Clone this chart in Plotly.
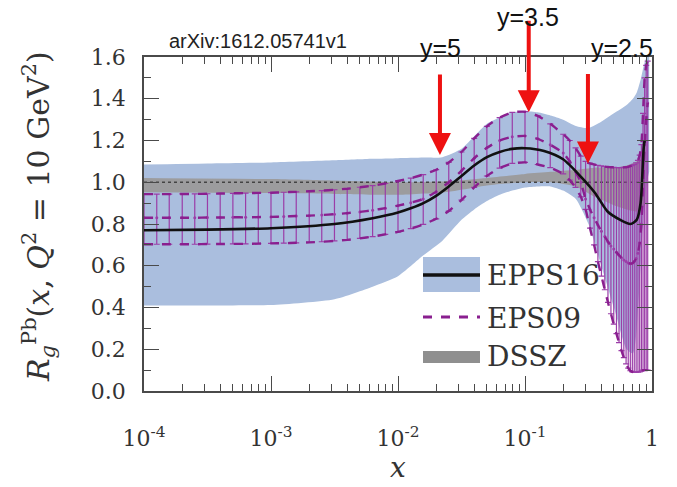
import math
import plotly.graph_objects as go

# ---------------- data ----------------
# EPPS16 uncertainty band (light blue)
epps16_band_log10x = [-4.0, -3.5, -3.0, -2.5, -2.2, -2.0, -1.8, -1.65, -1.5, -1.4, -1.3, -1.2,
                      -1.1, -1.0, -0.9, -0.8, -0.7, -0.6, -0.5, -0.4, -0.3, -0.2, -0.15,
                      -0.12, -0.09, -0.06, -0.04, -0.022]
epps16_upper = [1.085, 1.09, 1.095, 1.105, 1.112, 1.115, 1.118, 1.12, 1.16, 1.22, 1.28, 1.31,
                1.335, 1.34, 1.335, 1.32, 1.30, 1.27, 1.26, 1.29, 1.33, 1.37, 1.40,
                1.43, 1.49, 1.57, 1.60, 1.60]
epps16_lower = [0.41, 0.41, 0.412, 0.44, 0.50, 0.55, 0.65, 0.72, 0.82, 0.87, 0.91, 0.94,
                0.96, 0.975, 0.98, 0.98, 0.96, 0.92, 0.80, 0.60, 0.40, 0.20, 0.18,
                0.30, 0.60, 0.90, 1.00, 1.05]

# EPPS16 central value (black line)
epps16_log10x = [-4.0, -3.5, -3.0, -2.5, -2.2, -2.0, -1.9, -1.8, -1.7, -1.6, -1.5, -1.4, -1.3,
                 -1.2, -1.1, -1.0, -0.85, -0.7, -0.55, -0.45, -0.35, -0.25, -0.17, -0.12,
                 -0.09, -0.075, -0.065, -0.058]
epps16_central = [0.77, 0.773, 0.78, 0.80, 0.828, 0.855, 0.875, 0.90, 0.935, 0.98, 1.03, 1.08, 1.12,
                  1.145, 1.16, 1.163, 1.15, 1.11, 1.02, 0.95, 0.86, 0.82, 0.80, 0.82,
                  0.90, 1.05, 1.17, 1.20]

# DSSZ band (grey)
dssz_log10x = [-4.0, -3.0, -2.5, -2.0, -1.6, -1.3, -1.0, -0.8, -0.6, -0.45, -0.3, -0.2, -0.12,
               -0.08, -0.05]
dssz_upper = [1.02, 1.015, 1.008, 1.0, 1.005, 1.02, 1.04, 1.05, 1.06, 1.07, 1.07, 1.08, 1.10,
              1.15, 1.20]
dssz_lower = [0.952, 0.948, 0.944, 0.94, 0.955, 0.985, 1.0, 1.0, 0.98, 0.93, 0.89, 0.87, 0.86,
              0.87, 0.90]

# EPS09 (purple, dashed with error bars)
eps09_x = [1.00e-4, 1.26e-4, 1.58e-4, 2.00e-4, 2.51e-4, 3.16e-4, 3.98e-4, 5.01e-4, 6.31e-4, 7.94e-4,
           1.00e-3, 1.26e-3, 1.58e-3, 2.00e-3, 2.51e-3, 3.16e-3, 3.98e-3, 5.01e-3, 6.31e-3, 7.94e-3,
           1.00e-2, 1.26e-2, 1.58e-2, 2.00e-2, 2.51e-2, 3.16e-2, 3.98e-2, 5.01e-2, 6.31e-2, 7.94e-2,
           0.100, 0.126, 0.158, 0.200,
           0.225, 0.250, 0.275, 0.300, 0.325, 0.350, 0.375, 0.400, 0.425, 0.450, 0.475, 0.500,
           0.525, 0.550, 0.575, 0.600, 0.625, 0.650, 0.675, 0.700, 0.725, 0.750, 0.775, 0.800,
           0.825, 0.850, 0.875, 0.900, 0.925]
eps09_upper = [0.943, 0.943, 0.943, 0.944, 0.944, 0.945, 0.946, 0.947, 0.948, 0.949,
               0.950, 0.952, 0.954, 0.957, 0.960, 0.964, 0.969, 0.976, 0.984, 0.994,
               1.006, 1.020, 1.037, 1.060, 1.095, 1.145, 1.210, 1.268, 1.310, 1.335,
               1.338, 1.318, 1.280, 1.230,
               1.200, 1.165, 1.125, 1.100, 1.090, 1.085, 1.081, 1.078, 1.075, 1.073, 1.072, 1.071,
               1.070, 1.070, 1.070, 1.071, 1.072, 1.074, 1.077, 1.081, 1.086, 1.093, 1.105, 1.130,
               1.180, 1.330, 1.500, 1.560, 1.580]
eps09_central = [0.830, 0.830, 0.830, 0.830, 0.830, 0.831, 0.831, 0.832, 0.832, 0.833,
                 0.834, 0.836, 0.838, 0.840, 0.843, 0.847, 0.852, 0.858, 0.866, 0.876,
                 0.888, 0.902, 0.920, 0.955, 1.000, 1.055, 1.115, 1.165, 1.200, 1.218,
                 1.222, 1.208, 1.180, 1.140,
                 1.100, 1.050, 1.000, 0.920, 0.870, 0.830, 0.795, 0.765, 0.740, 0.715, 0.695, 0.680,
                 0.665, 0.650, 0.638, 0.628, 0.620, 0.613, 0.610, 0.612, 0.620, 0.635, 0.660, 0.710,
                 0.800, 1.000, 1.180, 1.300, 1.380]
eps09_lower = [0.703, 0.703, 0.703, 0.703, 0.703, 0.704, 0.704, 0.705, 0.705, 0.706,
               0.707, 0.708, 0.710, 0.712, 0.715, 0.719, 0.724, 0.731, 0.740, 0.750,
               0.762, 0.778, 0.798, 0.825, 0.862, 0.915, 0.975, 1.030, 1.068, 1.090,
               1.095, 1.085, 1.070, 1.040,
               1.010, 0.975, 0.930, 0.870, 0.780, 0.700, 0.620, 0.550, 0.485, 0.425, 0.370, 0.320,
               0.275, 0.232, 0.193, 0.160, 0.130, 0.110, 0.097, 0.092, 0.090, 0.090, 0.090, 0.092,
               0.095, 0.100, 0.100, 0.100, 0.100]

# rapidity markers
arrow_x = [0.0214, 0.107, 0.313]
arrow_tip = [1.13, 1.335, 1.09]
arrow_text = ["y=5", "y=3.5", "y=2.5"]

x_tickvals = [1e-4, 1e-3, 1e-2, 1e-1, 1]
x_ticktext = ["10<sup>-4</sup>", "10<sup>-3</sup>", "10<sup>-2</sup>", "10<sup>-1</sup>", "1"]
x_minor_tickvals = [m * d for d in (1e-4, 1e-3, 1e-2, 1e-1) for m in (2, 3, 4, 5, 6, 7, 8, 9)]

legend_names = ["EPPS16", "EPS09", "DSSZ"]

# ---------------- styling ----------------
BLUE = "#AABEDE"
GREY = "#9C9C9E"
PURPLE = "#8A1F8F"
PURPLE_BAR = "#9B3DA8"
AXIS = "#4A4A4A"
SERIF = "'DejaVu Serif', 'Liberation Serif', 'Times New Roman', serif"
SANS = "'Liberation Sans', Arial, sans-serif"

W, H = 677, 487
ML, MR, MT, MB = 144, 25, 57, 96
PW, PH = W - ML - MR, H - MT - MB


def px(xp):
    return (xp - ML) / PW


def py(yp):
    return (H - MB - yp) / PH


def tox(lst):
    return [10 ** v for v in lst]


fig = go.Figure()

# EPPS16 band
bx = tox(epps16_band_log10x)
fig.add_trace(go.Scatter(x=bx, y=epps16_lower, mode="lines", line=dict(width=0, shape="spline", smoothing=0.6),
                         showlegend=False, hoverinfo="skip"))
fig.add_trace(go.Scatter(x=bx, y=epps16_upper, mode="lines", line=dict(width=0, shape="spline", smoothing=0.6),
                         fill="tonexty", fillcolor=BLUE, showlegend=False, hoverinfo="skip"))

# DSSZ band
dx = tox(dssz_log10x)
fig.add_trace(go.Scatter(x=dx, y=dssz_lower, mode="lines", line=dict(width=0, shape="spline", smoothing=0.6),
                         showlegend=False, hoverinfo="skip"))
fig.add_trace(go.Scatter(x=dx, y=dssz_upper, mode="lines", line=dict(width=0, shape="spline", smoothing=0.6),
                         fill="tonexty", fillcolor=GREY, showlegend=False, hoverinfo="skip"))

# y = 1 reference
fig.add_trace(go.Scatter(x=[1e-4, 1], y=[1, 1], mode="lines",
                         line=dict(color="#444444", width=1.3, dash="dot"), showlegend=False))

# EPS09 error bars
err_plus = [u - c for u, c in zip(eps09_upper, eps09_central)]
err_minus = [c - l for c, l in zip(eps09_central, eps09_lower)]
fig.add_trace(go.Scatter(x=eps09_x, y=eps09_central, mode="markers",
                         marker=dict(size=3, color=PURPLE_BAR),
                         error_y=dict(type="data", symmetric=False, array=err_plus, arrayminus=err_minus,
                                      color=PURPLE_BAR, thickness=1.2, width=3),
                         showlegend=False))
for ys in (eps09_upper, eps09_central, eps09_lower):
    fig.add_trace(go.Scatter(x=eps09_x, y=ys, mode="lines",
                             line=dict(color=PURPLE, width=2.4, dash="dash", shape="spline", smoothing=0.5),
                             showlegend=False))

# EPPS16 central
fig.add_trace(go.Scatter(x=tox(epps16_log10x), y=epps16_central, mode="lines",
                         line=dict(color="#111111", width=2.6, shape="spline", smoothing=0.7),
                         showlegend=False))

annotations = []
# rapidity arrows (annotation x on a log axis is given in log10 units)
tails = [-89, -100, -98]
for xv, yv, ay in zip(arrow_x, arrow_tip, tails):
    annotations.append(dict(x=math.log10(xv), y=yv, xref="x", yref="y", ax=0, ay=ay, showarrow=True,
                            arrowhead=2, arrowsize=1.1, arrowwidth=4, arrowcolor="#EE1111", text=" "))


def label(xp, yp, text, family, size, color="#222", xanchor="center", angle=0):
    annotations.append(dict(x=px(xp), y=py(yp), xref="paper", yref="paper", text=text, showarrow=False,
                            xanchor=xanchor, yanchor="middle", textangle=angle,
                            font=dict(family=family, size=size, color=color)))


label(440, 48, arrow_text[0], SANS, 25, "#111")
label(528, 17, arrow_text[1], SANS, 25, "#111")
label(622, 48, arrow_text[2], SANS, 25, "#111")
label(258, 41, "arXiv:1612.05741v1", SANS, 20, "#222")

# axis titles
label(38, 217, "<i>R</i><sub><i>g</i></sub><sup>Pb</sup>(<i>x</i>, <i>Q</i><sup>2</sup> = 10 GeV<sup>2</sup>)",
      SERIF, 30, "#333", angle=-90)
label(398, 467, "<i>x</i>", SERIF, 28, "#333")

# legend (drawn manually)
shapes = [
    dict(type="rect", xref="paper", yref="paper", x0=px(423), x1=px(480), y0=py(257), y1=py(292),
         fillcolor=BLUE, line=dict(width=0)),
    dict(type="line", xref="paper", yref="paper", x0=px(423), x1=px(480), y0=py(275), y1=py(275),
         line=dict(color="#111", width=3.5)),
    dict(type="line", xref="paper", yref="paper", x0=px(423), x1=px(480), y0=py(317), y1=py(317),
         line=dict(color=PURPLE, width=3, dash="dash")),
    dict(type="rect", xref="paper", yref="paper", x0=px(423), x1=px(480), y0=py(351), y1=py(363),
         fillcolor="#8F8F8F", line=dict(width=0)),
]
for name, yy in zip(legend_names, [275, 318, 356]):
    label(485, yy, name, SERIF, 28, "#333", xanchor="left")

fig.update_layout(
    width=W, height=H, margin=dict(l=ML, r=MR, t=MT, b=MB),
    plot_bgcolor="white", paper_bgcolor="white", showlegend=False,
    annotations=annotations, shapes=shapes,
    font=dict(family=SERIF),
)
fig.update_xaxes(type="log", range=[-4, 0], tickvals=x_tickvals, ticktext=x_ticktext,
                 ticks="inside", ticklen=15, tickwidth=1.3, tickcolor=AXIS,
                 minor=dict(ticks="inside", ticklen=7, tickwidth=1.1, tickcolor=AXIS, showgrid=False,
                            tickvals=x_minor_tickvals),
                 showline=True, linecolor=AXIS, linewidth=1.5, mirror="allticks",
                 showgrid=False, zeroline=False, ticklabelstandoff=27,
                 tickfont=dict(family=SERIF, size=22, color="#333"))
fig.update_yaxes(range=[0, 1.6], dtick=0.2, tickformat=".1f",
                 ticks="inside", ticklen=15, tickwidth=1.3, tickcolor=AXIS,
                 minor=dict(ticks="inside", ticklen=7, dtick=0.1, tickwidth=1.1, tickcolor=AXIS, showgrid=False),
                 showline=True, linecolor=AXIS, linewidth=1.5, mirror="allticks",
                 showgrid=False, zeroline=False, ticklabelstandoff=12,
                 tickfont=dict(family=SERIF, size=22, color="#333"))

fig.write_html("out.html")
